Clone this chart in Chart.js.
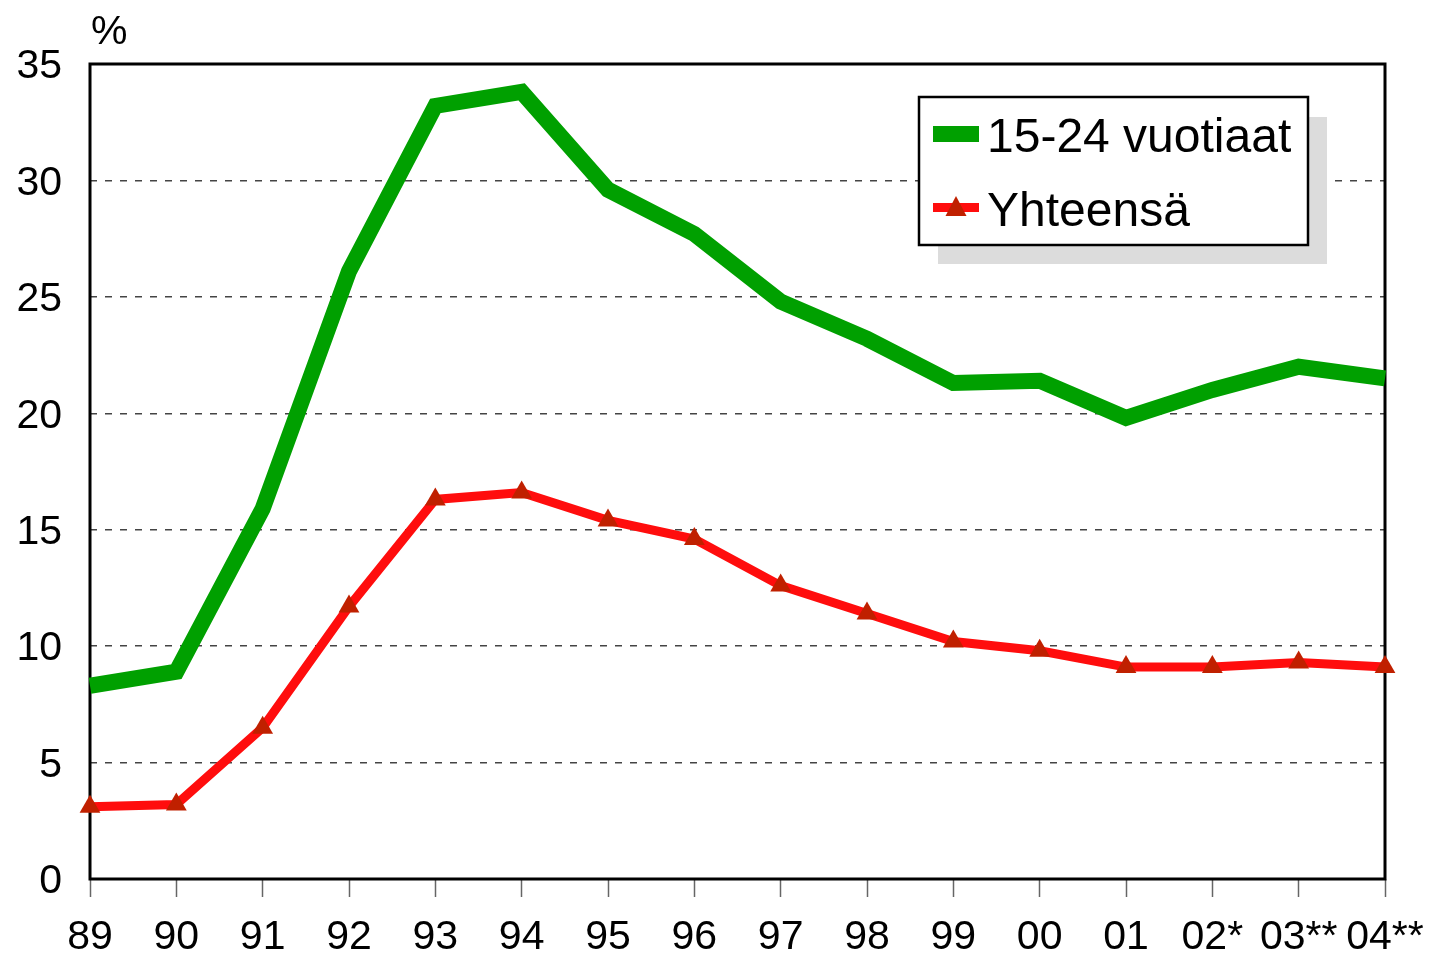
<!DOCTYPE html>
<html>
<head>
<meta charset="utf-8">
<script src="https://cdn.jsdelivr.net/npm/chart.js@4"></script>
<style>
  html, body { margin: 0; padding: 0; background: #fff; }
  #wrap { width: 1430px; height: 957px; position: relative; }
</style>
</head>
<body>
<div id="wrap"><canvas id="c" width="1430" height="957"></canvas></div>
<script>
const categories = ["89","90","91","92","93","94","95","96","97","98","99","00","01","02*","03**","04**"];
const youth = [8.3, 8.9, 15.9, 26.1, 33.2, 33.8, 29.6, 27.7, 24.8, 23.2, 21.3, 21.4, 19.8, 21.0, 22.0, 21.5];
const total = [3.1, 3.2, 6.5, 11.7, 16.3, 16.6, 15.4, 14.6, 12.6, 11.4, 10.2, 9.8, 9.1, 9.1, 9.3, 9.1];
const seriesLabels = ["15-24 vuotiaat", "Yhteensä"];
const yTicks = [0, 5, 10, 15, 20, 25, 30, 35];
const unitLabel = "%";

const FONT = "'Liberation Sans', Arial, Helvetica, sans-serif";
const GREEN = "#00a000";
const RED = "#ff0d0d";
const MARK = "#c02000";

const framePlugin = {
  id: 'frame',
  beforeDatasetsDraw(chart) {
    const {ctx, chartArea: a} = chart;
    ctx.save();
    ctx.strokeStyle = '#000';
    ctx.lineWidth = 3;
    ctx.strokeRect(a.left, a.top, a.right - a.left, a.bottom - a.top);
    ctx.restore();
  },
  afterDraw(chart) {
    const {ctx} = chart;
    ctx.save();
    ctx.fillStyle = '#000';
    ctx.font = "41px " + FONT;
    ctx.textBaseline = 'alphabetic';
    ctx.textAlign = 'left';
    ctx.fillText(unitLabel, 91, 44);
    ctx.fillStyle = '#dcdcdc';
    ctx.fillRect(938, 117, 389, 147);
    ctx.fillStyle = '#fff';
    ctx.fillRect(919, 97, 389, 148);
    ctx.strokeStyle = '#000';
    ctx.lineWidth = 2.5;
    ctx.strokeRect(919, 97, 389, 148);
    const ds = chart.data.datasets;
    ctx.fillStyle = ds[0].borderColor;
    ctx.fillRect(933, 126, 46, 16);
    ctx.fillStyle = ds[1].borderColor;
    ctx.fillRect(933, 203, 46, 9);
    ctx.fillStyle = ds[1].pointBackgroundColor;
    ctx.beginPath();
    ctx.moveTo(956, 196);
    ctx.lineTo(966.5, 216);
    ctx.lineTo(945.5, 216);
    ctx.closePath();
    ctx.fill();
    ctx.fillStyle = '#000';
    ctx.font = "48px " + FONT;
    ctx.fillText(ds[0].label, 987, 152);
    ctx.fillText(ds[1].label, 987, 226);
    ctx.restore();
  }
};

new Chart(document.getElementById('c'), {
  type: 'line',
  data: {
    labels: categories,
    datasets: [
      {
        label: seriesLabels[0],
        data: youth,
        borderColor: GREEN,
        backgroundColor: GREEN,
        borderWidth: 16,
        pointRadius: 0,
        pointHoverRadius: 0,
        tension: 0,
        clip: false,
        borderJoinStyle: 'miter'
      },
      {
        label: seriesLabels[1],
        data: total,
        borderColor: RED,
        backgroundColor: RED,
        borderWidth: 9,
        pointStyle: 'triangle',
        pointRadius: 12,
        pointHoverRadius: 12,
        pointBackgroundColor: MARK,
        pointBorderColor: MARK,
        pointBorderWidth: 0,
        tension: 0,
        clip: false
      }
    ]
  },
  options: {
    responsive: false,
    animation: false,
    devicePixelRatio: 1,
    layout: { padding: { top: 64, right: 45, left: 0, bottom: 0 } },
    plugins: {
      legend: { display: false },
      tooltip: { enabled: false },
      title: { display: false }
    },
    scales: {
      x: {
        type: 'category',
        offset: false,
        afterFit(scale) {
          scale.height = 78;
          scale.paddingLeft = 0;
          scale.paddingRight = 0;
        },
        grid: {
          display: true,
          drawOnChartArea: false,
          drawTicks: true,
          tickLength: 18,
          tickColor: '#666',
          tickWidth: 1.5
        },
        border: { display: false },
        ticks: {
          autoSkip: false,
          maxRotation: 0,
          minRotation: 0,
          padding: 16,
          color: '#000',
          font: { family: FONT, size: 41 }
        }
      },
      y: {
        min: yTicks[0],
        max: yTicks[yTicks.length - 1],
        afterFit(scale) {
          scale.width = 90;
          scale.paddingTop = 0;
          scale.paddingBottom = 0;
        },
        afterBuildTicks(scale) { scale.ticks = yTicks.map(v => ({ value: v })); },
        grid: {
          drawTicks: false,
          lineWidth: 1.4,
          color(ctx) {
            const v = ctx.tick ? ctx.tick.value : null;
            return (v === yTicks[0] || v === yTicks[yTicks.length - 1]) ? 'rgba(0,0,0,0)' : '#444';
          }
        },
        border: { display: false, dash: [7, 8] },
        ticks: {
          padding: 28,
          labelOffset: 3,
          color: '#000',
          font: { family: FONT, size: 41 }
        }
      }
    }
  },
  plugins: [framePlugin]
});
</script>
</body>
</html>
